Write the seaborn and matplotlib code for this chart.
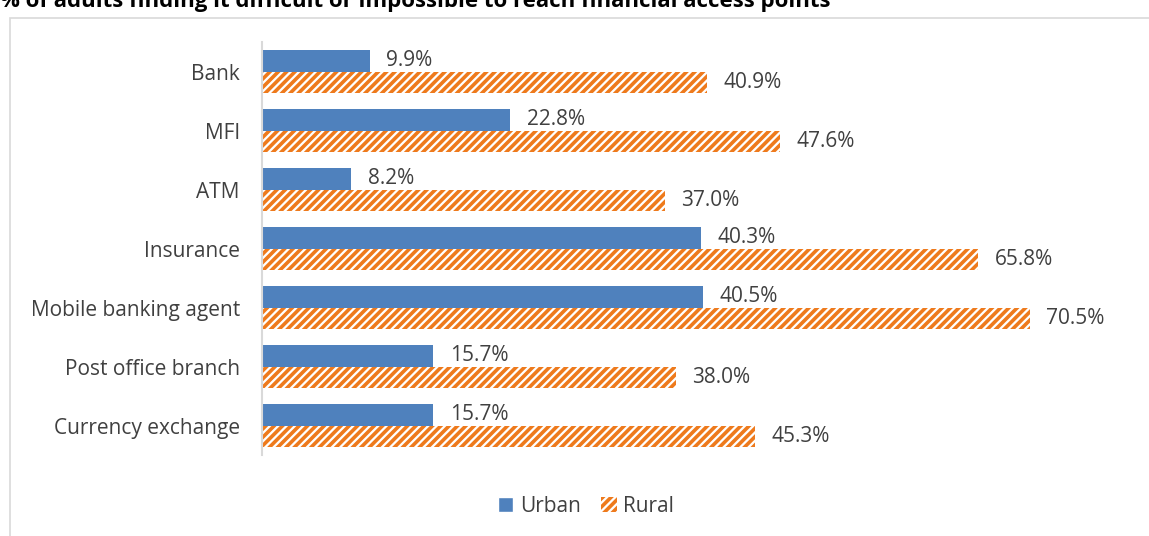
import pandas as pd
import seaborn as sns
import matplotlib.pyplot as plt
from matplotlib.patches import Patch, Rectangle

categories = ["Bank", "MFI", "ATM", "Insurance", "Mobile banking agent",
              "Post office branch", "Currency exchange"]
urban = [9.9, 22.8, 8.2, 40.3, 40.5, 15.7, 15.7]
rural = [40.9, 47.6, 37.0, 65.8, 70.5, 38.0, 45.3]

df = pd.DataFrame({
    "Category": categories * 2,
    "Value": urban + rural,
    "Area": ["Urban"] * len(categories) + ["Rural"] * len(categories),
})

sns.set_style("white")
plt.rcParams["font.family"] = ["Open Sans", "DejaVu Sans"]
plt.rcParams["hatch.linewidth"] = 2.6

blue = "#4F81BD"
orange = "#EE7A1C"
grey_text = "#404040"

fig = plt.figure(figsize=(11.49, 5.36), dpi=100)
ax = fig.add_axes([262 / 1149, 1 - 455 / 536, 871 / 1149, 413 / 536])

sns.barplot(data=df, y="Category", x="Value", hue="Area", orient="h",
            palette={"Urban": blue, "Rural": "white"}, width=0.73,
            saturation=1, ax=ax, legend=False)

for bar in ax.containers[0]:
    bar.set_linewidth(0)
for bar in ax.containers[1]:
    bar.set_hatch("////")
    bar.set_edgecolor(orange)
    bar.set_linewidth(0)

for cont, vals in zip(ax.containers, [urban, rural]):
    ax.bar_label(cont, labels=[f"{v:.1f}%" for v in vals], padding=12,
                 fontsize=15, color=grey_text)

ax.set_xlim(0, 80)
ax.set_xlabel("")
ax.set_ylabel("")
ax.set_xticks([])
ax.tick_params(axis="y", length=0, pad=16, labelsize=15, labelcolor=grey_text)
for s in ["top", "right", "bottom"]:
    ax.spines[s].set_visible(False)
ax.spines["left"].set_color("#D9D9D9")
ax.spines["left"].set_linewidth(1.5)

handles = [Patch(facecolor=blue, label="Urban"),
           Patch(facecolor="white", edgecolor=orange, hatch="////",
                 linewidth=0, label="Rural")]
fig.legend(handles=handles, loc="center", bbox_to_anchor=(0.51, 1 - 506 / 536),
           ncol=2, frameon=False, fontsize=15, handlelength=0.75,
           handleheight=0.75, columnspacing=1.0, handletextpad=0.3,
           labelcolor=grey_text)

fig.patches.append(Rectangle((10 / 1149, -0.05), 1.2, 1 - 18 / 536 + 0.05,
                             transform=fig.transFigure, fill=False,
                             edgecolor="#D9D9D9", linewidth=1.2))

fig.text(0.0, 1 - 2 / 536, "% of adults finding it difficult or impossible to reach financial access points",
         fontsize=16, fontweight="bold", ha="left", va="center", color="black")

fig.savefig("out.png", dpi=100)
